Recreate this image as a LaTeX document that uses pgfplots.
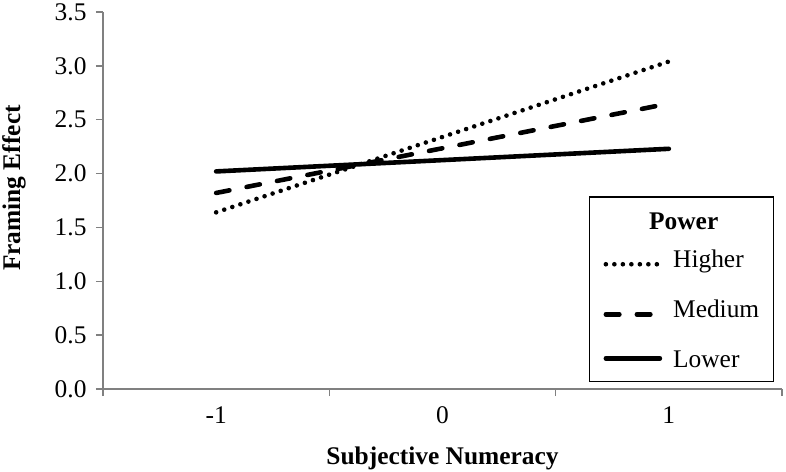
\documentclass[border=0pt]{standalone}
\usepackage{pgfplots}
\pgfplotsset{compat=1.18}
\usepackage{fontspec}
\setmainfont{Liberation Serif}
\definecolor{axgray}{HTML}{808080}
\begin{document}
\begin{tikzpicture}
\useasboundingbox (-103bp,-83bp) rectangle (683bp,389bp);
\begin{axis}[
  at={(0,0)}, anchor=south west,
  scale only axis,
  width=679bp, height=377bp,
  xmin=-1.5, xmax=1.5,
  ymin=0, ymax=3.5,
  axis x line=bottom, axis y line=left,
  axis line style={-, draw=axgray, line width=1.5bp},
  xtick={-1.5,-0.5,0.5,1.5},
  xticklabels={},
  extra x ticks={-1,0,1},
  extra x tick labels={-1,0,1},
  extra x tick style={major tick length=0bp, tick style={draw=none}},
  ytick={0,0.5,1,1.5,2,2.5,3,3.5},
  major tick length=7bp,
  tick align=outside,
  tick style={draw=axgray, line width=1.5bp},
  yticklabel style={/pgf/number format/fixed, /pgf/number format/fixed zerofill, /pgf/number format/precision=1, /pgf/number format/assume math mode=true, xshift=-6bp},
  tick label style={font=\fontsize{25.5}{30}\selectfont},
  xticklabel style={yshift=-14bp},
  xlabel={\textbf{Subjective Numeracy}},
  ylabel={\textbf{Framing Effect}},
  label style={font=\fontsize{25.5}{30}\selectfont},
  xlabel style={at={(axis description cs:0.5,0)}, anchor=base, yshift=-75.5bp},
  ylabel style={at={(axis description cs:-0.1222,0.533)}, anchor=base, rotate=0},
  legend style={at={(axis description cs:1,0)}, anchor=south east, xshift=-8bp, yshift=7bp,
    draw=black, line width=1.5bp,
    font=\fontsize{25.5}{30}\selectfont, row sep=20bp, inner xsep=14bp, inner ysep=14bp,
    nodes={inner sep=0pt, text height=18bp, text depth=12bp},
    /tikz/every odd column/.append style={column sep=11bp}},
  legend cell align=left,
  legend image code/.code={\draw[#1] (0bp,0bp) -- (54bp,0bp);},
]
\addlegendimage{empty legend}
\addlegendentry[text depth=0bp]{\hspace*{-24bp}\textbf{Power}}
\addplot[black, line width=4.6bp, line cap=round, dash pattern=on 0bp off 8.5bp] coordinates {(-1,1.64) (1,3.04)};
\addlegendentry{Higher}
\addplot[black, line width=4.6bp, line cap=round, dash pattern=on 13.5bp off 17.5bp] coordinates {(-1,1.82) (1,2.65)};
\addlegendentry{Medium}
\addplot[black, line width=4.6bp, line cap=round] coordinates {(-1,2.02) (1,2.23)};
\addlegendentry[text depth=0bp]{Lower}
\end{axis}
\end{tikzpicture}
\end{document}
